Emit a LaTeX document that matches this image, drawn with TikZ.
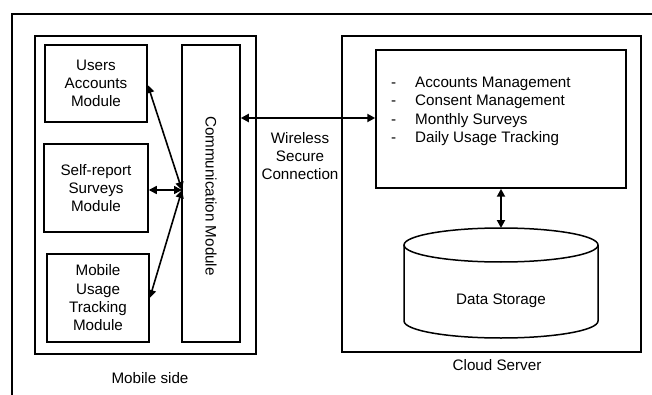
\documentclass[tikz,border=0pt]{standalone}
\usepackage{fontspec}
\setmainfont{Liberation Sans}
\usetikzlibrary{arrows.meta}

\begin{document}
\begin{tikzpicture}[x=1pt, y=-1pt,
  box/.style={draw, line width=1.5pt, align=center, inner sep=0pt},
  link/.style={line width=1.6pt, {Triangle[length=8pt,width=8pt]}-{Triangle[length=8pt,width=8pt]}},
  every node/.style={font=\fontsize{15.2}{18.3}\selectfont}]
\useasboundingbox (0,0) rectangle (652,395);
% outer frame (cut at the edges)
\draw [line width=1.8pt] (12,395) -- (12,14) -- (652,14);
% mobile side
\node[box, minimum width=221pt, minimum height=318pt] (mobile) at (145.5,195) {};
\node[box, minimum width=102pt, minimum height=77pt] (users) at (96,83.5) {Users\\Accounts\\Module};
\node[box, minimum width=104pt, minimum height=88pt] (survey) at (96,188) {Self-report\\Surveys\\Module};
\node[box, minimum width=102pt, minimum height=88pt] (usage) at (98,298) {Mobile\\Usage\\Tracking\\Module};
\node[box, minimum width=58pt, minimum height=297pt] (comm) at (211,193.5) {};
\node[rotate=-90] (commtext) at (211,196) {Communication Module};
\node (mobilelabel) at (150,378) {Mobile side};
\coordinate (hub) at (182,190);
\draw [link] (hub) -- (users.east |- 0,85);
\draw [link] (hub) -- (survey.east |- hub);
\draw [link] (hub) -- (usage.east |- 0,298);
% cloud side
\node[box, minimum width=299pt, minimum height=316pt] (cloud) at (491.5,194) {};
\node[box, minimum width=250pt, minimum height=138pt] (tasks) at (501,119) {};
\node[anchor=north west, align=left, inner sep=0pt] (tasklist) at (391,77)
  {\makebox[24pt][l]{-}Accounts Management\\
   \makebox[24pt][l]{-}Consent Management\\
   \makebox[24pt][l]{-}Monthly Surveys\\
   \makebox[24pt][l]{-}Daily Usage Tracking};
\node (cloudlabel) at (497,365) {Cloud Server};
% data storage cylinder
\draw [line width=1.5pt] (404,245) -- (404,321) arc[start angle=180, end angle=360, x radius=97, y radius=-17] -- (598,245);
\draw [line width=1.5pt] (501,245) ellipse [x radius=97, y radius=17];
\coordinate (dbtop) at (501,228);
\node (storage) at (501,301) {Data Storage};
\draw [link, line width=2.2pt] (tasks.south) -- (dbtop);
% wireless link
\draw [link, line width=2.2pt] (comm.east |- 0,118) -- (tasks.west |- 0,118);
\node[align=center] (wireless) at (300,156) {Wireless\\Secure\\Connection};
\end{tikzpicture}
\end{document}
